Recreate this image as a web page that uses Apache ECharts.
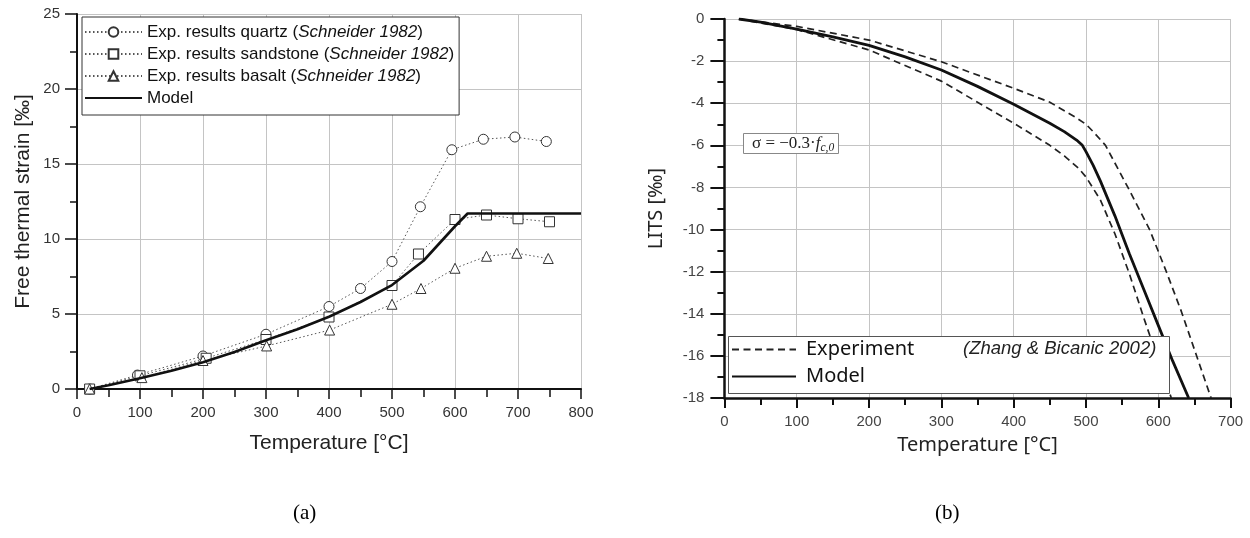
<!DOCTYPE html>
<html>
<head>
<meta charset="utf-8">
<title>Free thermal strain and LITS</title>
<script src="https://cdn.jsdelivr.net/npm/echarts@6/dist/echarts.min.js"></script>
<style>
  html, body { margin: 0; padding: 0; background: #fff; }
  #chart { width: 1250px; height: 538px; }
</style>
</head>
<body>
<div id="chart"></div>
<script>
// ---- (a) Free thermal strain of aggregates, Schneider 1982 ----
const quartzT = [20, 96, 200, 300, 400, 450, 500, 545, 595, 645, 695, 745];
const quartzStrain = [0, 0.93, 2.2, 3.65, 5.5, 6.7, 8.5, 12.15, 15.95, 16.65, 16.8, 16.5];

const sandstoneT = [20, 100, 205, 300, 400, 500, 542, 600, 650, 700, 750];
const sandstoneStrain = [0, 0.88, 2.05, 3.3, 4.8, 6.9, 9.0, 11.3, 11.6, 11.35, 11.15];

const basaltT = [20, 103, 200, 301, 401, 500, 546, 600, 650, 698, 748];
const basaltStrain = [0, 0.76, 1.9, 2.87, 3.93, 5.65, 6.7, 8.05, 8.85, 9.05, 8.7];

const modelT = [20, 50, 100, 150, 200, 250, 300, 350, 400, 450, 500, 550, 600, 620, 800];
const modelStrain = [0, 0.25, 0.72, 1.22, 1.78, 2.47, 3.25, 3.98, 4.82, 5.8, 6.93, 8.55, 10.85, 11.7, 11.7];

const strainTicks = [0, 5, 10, 15, 20, 25];
const tempTicksA = [0, 100, 200, 300, 400, 500, 600, 700, 800];

// ---- (b) LITS under sigma = -0.3 fc0, Zhang & Bicanic 2002 ----
const expUpperT = [20, 100, 200, 300, 400, 450, 487, 500, 510, 527, 558, 588, 610, 632, 652, 673];
const expUpperLits = [0, -0.35, -1.0, -2.03, -3.29, -3.95, -4.7, -5.0, -5.35, -6.0, -8.0, -10.0, -11.9, -13.9, -15.9, -18];

const expLowerT = [20, 100, 200, 300, 400, 450, 470, 490, 500, 520, 540, 560, 580, 600, 618];
const expLowerLits = [0, -0.5, -1.47, -2.95, -4.95, -6.0, -6.5, -7.1, -7.5, -8.6, -10.2, -12.1, -14.2, -16.2, -18];

const modelLitsT = [20, 50, 100, 150, 200, 250, 300, 350, 400, 450, 470, 487, 495, 500, 510, 520, 540, 560, 580, 600, 620, 642];
const modelLits = [0, -0.15, -0.48, -0.85, -1.25, -1.8, -2.42, -3.2, -4.05, -4.95, -5.35, -5.75, -6.0, -6.3, -6.95, -7.7, -9.35, -11.15, -12.85, -14.55, -16.25, -18];

const litsTicks = [0, -2, -4, -6, -8, -10, -12, -14, -16, -18];
const tempTicksB = [0, 100, 200, 300, 400, 500, 600, 700];

const pairs = (xs, ys) => xs.map((x, i) => [x, ys[i]]);

const SANS = 'Liberation Sans, Arial, sans-serif';
const WIDE = 'Noto Sans, DejaVu Sans, sans-serif';
const SERIF = 'Liberation Serif, Times New Roman, serif';

const gridLine = { show: true, lineStyle: { color: '#c4c4c4', width: 1 } };
// legend entries that show a plain line without a marker
const noMarker = { opacity: 0, color: 'rgba(0,0,0,0)', borderWidth: 0 };

const legendNamesA = {
  quartz: 'Exp. results quartz ({it|Schneider 1982})',
  sandstone: 'Exp. results sandstone ({it|Schneider 1982})',
  basalt: 'Exp. results basalt ({it|Schneider 1982})',
  Model: 'Model'
};

const expStyle = (symbol, size) => ({
  type: 'line',
  xAxisIndex: 0, yAxisIndex: 0,
  symbol: symbol,
  symbolSize: size,
  showSymbol: true,
  lineStyle: { color: '#555', width: 1, type: [1.5, 2.5] },
  itemStyle: { color: '#fff', borderColor: '#333', borderWidth: 1 },
  emphasis: { disabled: true },
  z: 3
});

const chart = echarts.init(document.getElementById('chart'), null, { renderer: 'canvas' });

chart.setOption({
  animation: false,
  backgroundColor: '#fff',
  grid: [
    { left: 77, top: 14, width: 504, height: 375, containLabel: false },
    { left: 724.4, top: 19, width: 506.2, height: 379, containLabel: false }
  ],
  xAxis: [
    {
      gridIndex: 0, type: 'value', min: tempTicksA[0], max: tempTicksA[tempTicksA.length - 1], interval: 100,
      name: 'Temperature [°C]', nameLocation: 'middle', nameGap: 44,
      nameTextStyle: { fontFamily: SANS, fontSize: 21, color: '#222' },
      axisLine: { show: true, onZero: false, lineStyle: { color: '#111', width: 2 } },
      axisTick: { show: true, inside: false, length: 10, lineStyle: { color: '#111', width: 1.5 } },
      minorTick: { show: true, splitNumber: 2, length: 8, lineStyle: { color: '#111', width: 1.5 } },
      axisLabel: { fontFamily: SANS, fontSize: 15, color: '#333', margin: 16 },
      splitLine: gridLine
    },
    {
      gridIndex: 1, type: 'value', min: tempTicksB[0], max: tempTicksB[tempTicksB.length - 1], interval: 100,
      name: 'Temperature [°C]', nameLocation: 'middle', nameGap: 37,
      nameTextStyle: { fontFamily: WIDE, fontSize: 20, color: '#222' },
      axisLine: { show: true, onZero: false, lineStyle: { color: '#111', width: 2.5 } },
      axisTick: { show: true, inside: false, length: 10, lineStyle: { color: '#111', width: 2 } },
      minorTick: { show: true, splitNumber: 2, length: 7, lineStyle: { color: '#111', width: 2 } },
      axisLabel: { fontFamily: SANS, fontSize: 15, color: '#444', margin: 16 },
      splitLine: gridLine
    }
  ],
  yAxis: [
    {
      gridIndex: 0, type: 'value', min: strainTicks[0], max: strainTicks[strainTicks.length - 1], interval: 5,
      name: 'Free thermal strain [‰]', nameLocation: 'middle', nameGap: 43,
      nameTextStyle: { fontFamily: SANS, fontSize: 21, color: '#222' },
      axisLine: { show: true, onZero: false, lineStyle: { color: '#111', width: 2 } },
      axisTick: { show: true, inside: false, length: 12, lineStyle: { color: '#111', width: 1.5 } },
      minorTick: { show: true, splitNumber: 2, length: 7, lineStyle: { color: '#111', width: 1.5 } },
      axisLabel: { fontFamily: SANS, fontSize: 15, color: '#333', margin: 17 },
      splitLine: gridLine
    },
    {
      gridIndex: 1, type: 'value', min: litsTicks[litsTicks.length - 1], max: litsTicks[0], interval: 2,
      name: 'LITS [‰]', nameLocation: 'middle', nameGap: 58,
      nameTextStyle: { fontFamily: WIDE, fontSize: 20, color: '#222' },
      axisLine: { show: true, onZero: false, lineStyle: { color: '#111', width: 2.5 } },
      axisTick: { show: true, inside: false, length: 14, lineStyle: { color: '#111', width: 2 } },
      minorTick: { show: true, splitNumber: 2, length: 7, lineStyle: { color: '#111', width: 2 } },
      axisLabel: { fontFamily: SANS, fontSize: 15, color: '#444', margin: 20 },
      splitLine: gridLine
    }
  ],
  legend: [
    {
      data: ['quartz', 'sandstone', 'basalt', { name: 'Model', itemStyle: noMarker }],
      left: 82, top: 17, orient: 'vertical',
      padding: [5, 5, 7, 2], itemGap: 2,
      itemWidth: 57, itemHeight: 12,
      backgroundColor: '#fff', borderColor: '#333', borderWidth: 1,
      selectedMode: false, z: 10,
      formatter: name => legendNamesA[name],
      textStyle: {
        fontFamily: SANS, fontSize: 17, color: '#111', lineHeight: 20,
        rich: { it: { fontFamily: SANS, fontSize: 17, fontStyle: 'italic', color: '#111', lineHeight: 20 } }
      }
    },
    {
      data: [{ name: 'Experiment', itemStyle: noMarker }, { name: 'Model (b)', itemStyle: noMarker }],
      left: 731, top: 339, orient: 'vertical',
      padding: 0, itemGap: 6,
      itemWidth: 64, itemHeight: 14,
      selectedMode: false, z: 10,
      formatter: name => name === 'Model (b)' ? 'Model' : name,
      textStyle: { fontFamily: WIDE, fontSize: 20, color: '#111', lineHeight: 21, padding: [0, 0, 0, 5] }
    }
  ],
  graphic: [
    // frame of the (b) legend, drawn under the legend entries
    { type: 'rect', z: 5, shape: { x: 728.5, y: 336.5, width: 441, height: 57 },
      style: { fill: '#fff', stroke: '#555', lineWidth: 1 } },
    { type: 'text', z: 11, left: 963, top: 339,
      style: { text: '(Zhang & Bicanic 2002)', fontFamily: SANS, fontSize: 18.5, fontStyle: 'italic', fill: '#222' } },
    // stress level annotation
    { type: 'rect', z: 5, shape: { x: 743.5, y: 133.5, width: 95, height: 20 },
      style: { fill: '#fff', stroke: '#888', lineWidth: 1 } },
    { type: 'text', z: 11, left: 752, top: 134,
      style: {
        text: '{a|σ = −0.3·}{f|f}{s|c,0}',
        rich: {
          a: { fontFamily: SERIF, fontSize: 17, fill: '#222', lineHeight: 18 },
          f: { fontFamily: SERIF, fontSize: 17, fontStyle: 'italic', fill: '#222', lineHeight: 18 },
          s: { fontFamily: SERIF, fontSize: 11.5, fontStyle: 'italic', fill: '#222', lineHeight: 18, padding: [8, 0, 0, 0] }
        }
      } },
    // panel captions
    { type: 'text', z: 11, left: 293, top: 503,
      style: { text: '(a)', fontFamily: SERIF, fontSize: 21, fill: '#000' } },
    { type: 'text', z: 11, left: 935, top: 503,
      style: { text: '(b)', fontFamily: SERIF, fontSize: 21, fill: '#000' } }
  ],
  series: [
    Object.assign(expStyle('circle', 10), { name: 'quartz', data: pairs(quartzT, quartzStrain) }),
    Object.assign(expStyle('rect', 10), { name: 'sandstone', data: pairs(sandstoneT, sandstoneStrain) }),
    Object.assign(expStyle('triangle', 10), { name: 'basalt', data: pairs(basaltT, basaltStrain) }),
    {
      name: 'Model', type: 'line', xAxisIndex: 0, yAxisIndex: 0,
      data: pairs(modelT, modelStrain), symbol: 'none', showSymbol: false,
      lineStyle: { color: '#111', width: 2.6 }, itemStyle: { color: '#111' },
      emphasis: { disabled: true }, z: 4
    },
    {
      name: 'Experiment', type: 'line', xAxisIndex: 1, yAxisIndex: 1,
      data: pairs(expUpperT, expUpperLits), symbol: 'none', showSymbol: false,
      lineStyle: { color: '#222', width: 1.7, type: [7, 4.5] }, itemStyle: { color: '#222' },
      emphasis: { disabled: true }, z: 3
    },
    {
      name: 'Experiment', type: 'line', xAxisIndex: 1, yAxisIndex: 1,
      data: pairs(expLowerT, expLowerLits), symbol: 'none', showSymbol: false,
      lineStyle: { color: '#222', width: 1.7, type: [7, 4.5] }, itemStyle: { color: '#222' },
      emphasis: { disabled: true }, z: 3
    },
    {
      name: 'Model (b)', type: 'line', xAxisIndex: 1, yAxisIndex: 1,
      data: pairs(modelLitsT, modelLits), symbol: 'none', showSymbol: false,
      lineStyle: { color: '#111', width: 2.8 }, itemStyle: { color: '#111' },
      emphasis: { disabled: true }, z: 4
    }
  ]
});
</script>
</body>
</html>
